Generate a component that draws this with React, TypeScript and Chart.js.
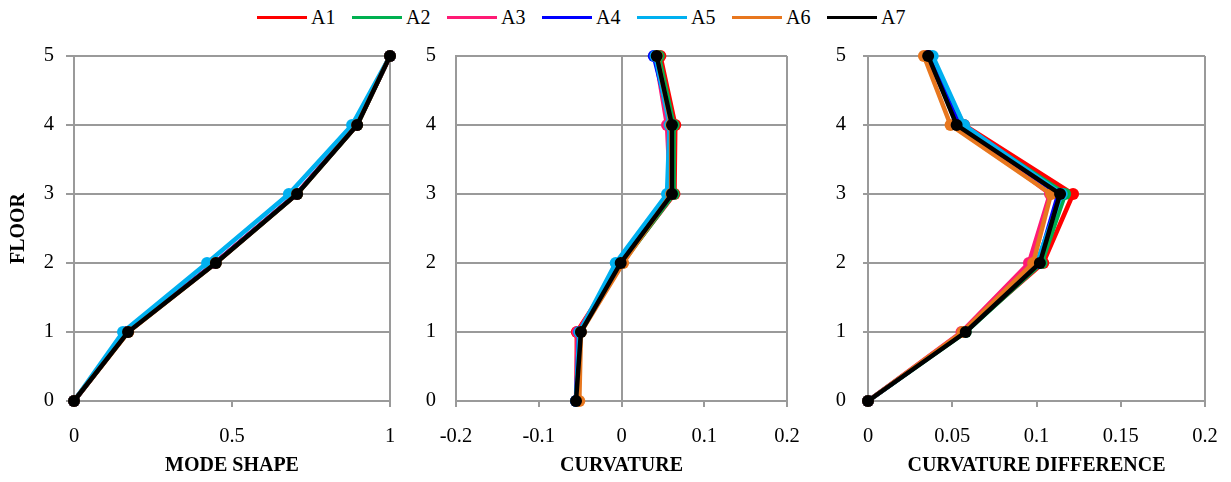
import React, { useEffect, useRef } from 'react';
import { Chart, registerables } from 'chart.js';

Chart.register(...registerables);

const floors = [0, 1, 2, 3, 4, 5];
const seriesNames = ['A1', 'A2', 'A3', 'A4', 'A5', 'A6', 'A7'];
const seriesColors = ['#FF0000', '#00B050', '#FF1A75', '#0000FF', '#00B0F0', '#E8771E', '#000000'];

// Mode shape per series (floor 0..5)
const modeShapeValues = [
  [0, 0.170, 0.447, 0.705, 0.895, 1],
  [0, 0.170, 0.448, 0.706, 0.896, 1],
  [0, 0.168, 0.446, 0.704, 0.894, 1],
  [0, 0.169, 0.447, 0.705, 0.895, 1],
  [0, 0.155, 0.421, 0.680, 0.880, 1],
  [0, 0.172, 0.449, 0.706, 0.896, 1],
  [0, 0.171, 0.449, 0.706, 0.896, 1],
];

// Curvature per series (floor 0..5)
const curvatureValues = [
  [-0.054, -0.054, 0.000, 0.064, 0.065, 0.047],
  [-0.054, -0.051, 0.001, 0.063, 0.063, 0.045],
  [-0.055, -0.053, -0.001, 0.059, 0.055, 0.041],
  [-0.055, -0.051, -0.001, 0.060, 0.060, 0.039],
  [-0.055, -0.051, -0.007, 0.055, 0.058, 0.041],
  [-0.051, -0.049, 0.002, 0.060, 0.060, 0.043],
  [-0.055, -0.049, -0.001, 0.061, 0.061, 0.0425],
];

// Curvature difference per series (floor 0..5)
const curvatureDiffValues = [
  [0, 0.057, 0.104, 0.1217, 0.057, 0.036],
  [0, 0.058, 0.103, 0.117, 0.055, 0.036],
  [0, 0.0555, 0.0955, 0.108, 0.054, 0.035],
  [0, 0.057, 0.101, 0.113, 0.054, 0.036],
  [0, 0.057, 0.100, 0.115, 0.057, 0.0384],
  [0, 0.056, 0.098, 0.1086, 0.049, 0.0332],
  [0, 0.058, 0.102, 0.114, 0.0526, 0.0357],
];

const modeShapeTicks = [0, 0.5, 1];
const curvatureTicks = [-0.2, -0.1, 0, 0.1, 0.2];
const curvatureDiffTicks = [0, 0.05, 0.1, 0.15, 0.2];

const FONT = "'Liberation Serif', 'Times New Roman', serif";
const GRID = '#9a9a9a';

function fmt(v: number) {
  return String(Number(Number(v).toFixed(3)));
}

type PanelProps = {
  left: number;
  width: number;
  values: number[][];
  xTicks: number[];
  xLines: number[];
  xTitle: string;
  yWidth: number;
  yTickLength: number;
  yPadding: number;
  yTitle?: string;
  rightPad: number;
};

function Panel(p: PanelProps) {
  const ref = useRef<HTMLCanvasElement>(null);
  useEffect(() => {
    const datasets = p.values.map((vals, i) => ({
      label: seriesNames[i],
      data: vals.map((v, j) => ({ x: v, y: floors[j] })),
      borderColor: seriesColors[i],
      backgroundColor: seriesColors[i],
      borderWidth: 4.5,
      pointRadius: 6,
      pointBorderWidth: 0,
      pointHoverRadius: 6,
      showLine: true,
      tension: 0,
      clip: false as any,
      order: p.values.length - i,
    }));
    const chart = new Chart(ref.current!, {
      type: 'scatter',
      data: { datasets },
      options: {
        animation: false,
        responsive: false,
        events: [],
        layout: { padding: { top: 26, right: p.rightPad, bottom: 0, left: 0 } },
        plugins: { legend: { display: false }, tooltip: { enabled: false } },
        scales: {
          x: {
            type: 'linear',
            min: p.xTicks[0],
            max: p.xTicks[p.xTicks.length - 1],
            afterBuildTicks: (s: any) => {
              s.ticks = p.xTicks.map((v) => ({ value: v }));
            },
            afterFit: (s: any) => {
              s.height = 81;
            },
            ticks: {
              callback: (v: any) => fmt(v),
              font: { family: FONT, size: 20.5, lineHeight: 2.65 },
              color: '#000',
              padding: 2,
              maxRotation: 0,
              autoSkip: false,
            },
            grid: {
              color: (ctx: any) =>
                ctx.tick && p.xLines.some((b) => Math.abs(b - ctx.tick.value) < 1e-9) ? GRID : 'rgba(0,0,0,0)',
              lineWidth: 2,
              tickColor: GRID,
              tickLength: 6,
              drawTicks: true,
            },
            border: { color: GRID, width: 2 },
            title: {
              display: true,
              text: p.xTitle,
              font: { family: FONT, size: 20, weight: 'bold' },
              color: '#000',
              padding: { top: 0, bottom: 4 },
            },
          },
          y: {
            type: 'linear',
            min: 0,
            max: 5,
            afterBuildTicks: (s: any) => {
              s.ticks = floors.map((v) => ({ value: v }));
            },
            afterFit: (s: any) => {
              s.width = p.yWidth;
            },
            ticks: {
              callback: (v: any) => fmt(v),
              font: { family: FONT, size: 20.5, lineHeight: 0.5 },
              color: '#000',
              padding: p.yPadding,
            },
            grid: {
              color: GRID,
              lineWidth: 2,
              tickColor: GRID,
              tickLength: p.yTickLength,
              drawTicks: p.yTickLength > 0,
            },
            border: { color: GRID, width: 2 },
            title: {
              display: !!p.yTitle,
              text: p.yTitle || '',
              font: { family: FONT, size: 20, weight: 'bold' },
              color: '#000',
              padding: { top: 7, bottom: 0 },
            },
          },
        },
      } as any,
    });
    return () => chart.destroy();
  }, []);
  return (
    <div style={{ position: 'absolute', left: p.left, top: 30, width: p.width, height: 452 }}>
      <canvas ref={ref} width={p.width} height={452} style={{ display: 'block' }} />
    </div>
  );
}

function Legend() {
  return (
    <div style={{ position: 'absolute', left: 257, top: 5, height: 24, display: 'flex' }}>
      {seriesNames.map((n, i) => (
        <div key={n} style={{ width: 95, display: 'flex', alignItems: 'center', height: 24 }}>
          <div style={{ width: 50, height: 3, background: seriesColors[i] }} />
          <span style={{ marginLeft: 4, fontFamily: FONT, fontSize: 20, color: '#000', lineHeight: '24px' }}>{n}</span>
        </div>
      ))}
    </div>
  );
}

export default function App() {
  return (
    <div style={{ position: 'absolute', left: 0, top: 0, width: 1231, height: 482, background: '#fff', overflow: 'hidden' }}>
      <Legend />
      <Panel
        left={0}
        width={410}
        values={modeShapeValues}
        xTicks={modeShapeTicks}
        xLines={[0, 1]}
        xTitle="MODE SHAPE"
        yWidth={74}
        yTickLength={8}
        yPadding={12}
        yTitle="FLOOR"
        rightPad={20}
      />
      <Panel
        left={410}
        width={400}
        values={curvatureValues}
        xTicks={curvatureTicks}
        xLines={[-0.2, 0, 0.2]}
        xTitle="CURVATURE"
        yWidth={46}
        yTickLength={0}
        yPadding={20}
        rightPad={23}
      />
      <Panel
        left={810}
        width={421}
        values={curvatureDiffValues}
        xTicks={curvatureDiffTicks}
        xLines={[0, 0.2]}
        xTitle="CURVATURE DIFFERENCE"
        yWidth={58}
        yTickLength={5}
        yPadding={17}
        rightPad={26}
      />
    </div>
  );
}
